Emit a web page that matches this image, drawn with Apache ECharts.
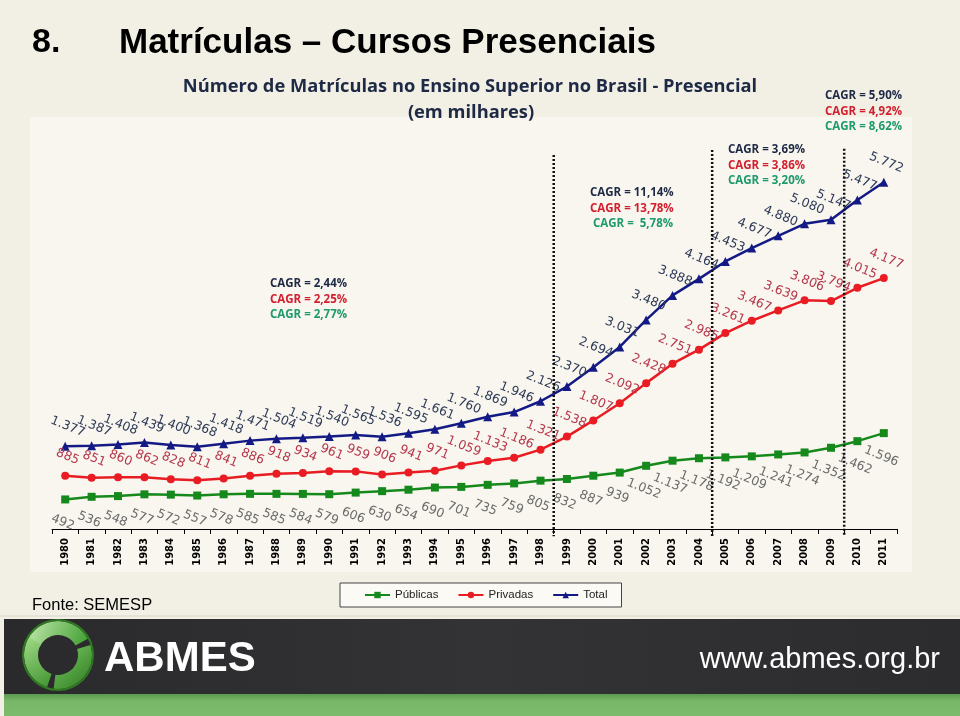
<!DOCTYPE html>
<html>
<head>
<meta charset="utf-8">
<script src="https://cdn.jsdelivr.net/npm/echarts@6/dist/echarts.min.js"></script>
<style>
html,body{margin:0;padding:0;background:#f2f0e5;}
#chart{width:960px;height:716px;}
</style>
</head>
<body>
<div id="chart"></div>
<script>
var years = ['1980','1981','1982','1983','1984','1985','1986','1987','1988','1989','1990','1991','1992','1993','1994','1995','1996','1997','1998','1999','2000','2001','2002','2003','2004','2005','2006','2007','2008','2009','2010','2011'];
var publicas = [492,536,548,577,572,557,578,585,585,584,579,606,630,654,690,701,735,759,805,832,887,939,1052,1137,1178,1192,1209,1241,1274,1352,1462,1596];
var privadas = [885,851,860,862,828,811,841,886,918,934,961,959,906,941,971,1059,1133,1186,1321,1538,1807,2092,2428,2751,2985,3261,3467,3639,3806,3794,4015,4177];
var total = [1377,1387,1408,1439,1400,1368,1418,1471,1504,1519,1540,1565,1536,1595,1661,1760,1869,1946,2126,2370,2694,3031,3480,3888,4164,4453,4677,4880,5080,5147,5477,5772];
var seriesNames = ['Públicas','Privadas','Total'];
// period breaks: between these category indexes
var periodBreaks = [[18,19],[24,25],[29,30]];
var periodTops = [6226, 6310, 6330];
var cagrBlocks = [
  ['CAGR = 2,44%','CAGR = 2,25%','CAGR = 2,77%'],
  ['CAGR = 11,14%','CAGR = 13,78%',' CAGR =  5,78%'],
  ['CAGR = 3,69%','CAGR = 3,86%','CAGR = 3,20%'],
  ['CAGR = 5,90%','CAGR = 4,92%','CAGR = 8,62%']
];
var cagrPos = [[270,284],[590,193],[728,150],[825,96]];
var cagrColors = ['#1d2945','#d2202f','#1e9a6c'];

function fmt(v){ return String(v).replace(/\B(?=(\d{3})+(?!\d))/g,'.'); }

var chart = echarts.init(document.getElementById('chart'));

var graphics = [
  {type:'rect', shape:{x:0,y:0,width:960,height:716}, style:{fill:'#f2f0e5'}, z:-10},
  {type:'rect', shape:{x:30,y:117,width:882,height:455}, style:{fill:'#f8f6ee'}, z:-9},
  {type:'line', shape:{x1:0,y1:616,x2:960,y2:616}, style:{stroke:'#d8d6cc',lineWidth:1}, z:-8},
  {type:'text', left:32, top:26, style:{text:'8.', font:'bold 34px "Liberation Sans", Arial', fill:'#000'}},
  {type:'text', left:119, top:26, style:{text:'Matrículas – Cursos Presenciais', font:'bold 35px "Liberation Sans", Arial', fill:'#000'}},
  {type:'text', x:470, y:87, style:{text:'Número de Matrículas no Ensino Superior no Brasil - Presencial', font:'bold 18.3px "Open Sans"', fill:'#1d2945', align:'center', verticalAlign:'middle'}},
  {type:'text', x:471, y:113, style:{text:'(em milhares)', font:'bold 18.3px "Open Sans"', fill:'#1d2945', align:'center', verticalAlign:'middle'}},
  {type:'text', left:32, top:597, style:{text:'Fonte: SEMESP', font:'16.5px "Liberation Sans", Arial', fill:'#000'}},
  // footer
  {type:'rect', shape:{x:4,y:619,width:956,height:76}, style:{fill:new echarts.graphic.LinearGradient(0,0,1,0,[{offset:0,color:'#2a292b'},{offset:0.5,color:'#333234'},{offset:1,color:'#2c2b2d'}])}},
  {type:'rect', shape:{x:4,y:694,width:956,height:22}, style:{fill:new echarts.graphic.LinearGradient(0,0,0,1,[{offset:0,color:'#5a9a4e'},{offset:0.3,color:'#78b768'},{offset:1,color:'#7dbb6c'}])}},
  {type:'text', left:104, top:638, style:{text:'ABMES', font:'bold 42px "Liberation Sans", Arial', fill:'#ffffff'}},
  {type:'text', x:940, y:660, style:{text:'www.abmes.org.br', font:'29px "Liberation Sans", Arial', fill:'#ffffff', align:'right', verticalAlign:'middle'}},
  // logo swirl
  {type:'arc', shape:{cx:58,cy:655,r:27,startAngle:-2.7,endAngle:-0.5}, style:{stroke:new echarts.graphic.LinearGradient(0,0,1,1,[{offset:0,color:'#c4eab0'},{offset:1,color:'#3a9a2a'}]), lineWidth:14, fill:'none'}},
  {type:'arc', shape:{cx:58,cy:655,r:27,startAngle:-0.3,endAngle:1.7}, style:{stroke:new echarts.graphic.LinearGradient(0,0,1,1,[{offset:0,color:'#8ad672'},{offset:1,color:'#2c7a1e'}]), lineWidth:14, fill:'none'}},
  {type:'arc', shape:{cx:58,cy:655,r:27,startAngle:1.9,endAngle:3.7}, style:{stroke:new echarts.graphic.LinearGradient(0,0,1,1,[{offset:0,color:'#a6df8c'},{offset:1,color:'#3c8f2c'}]), lineWidth:14, fill:'none'}},
  {type:'circle', shape:{cx:58,cy:655,r:35}, style:{fill:'none', stroke:'#2f7a22', lineWidth:2}}
];

cagrBlocks.forEach(function(b,i){
  b.forEach(function(t,j){
    graphics.push({type:'text', x:cagrPos[i][0], y:cagrPos[i][1]+j*15.5, style:{text:t, font:'bold 11.5px "Open Sans"', fill:cagrColors[j], verticalAlign:'middle'}});
  });
});

function labelCfg(pos,color,dist){
  return {show:true, position:pos, distance:dist, rotate:-22, color:color,
    fontSize:12.5, fontFamily:'"DejaVu Sans", Verdana', formatter:function(p){return fmt(p.value);}};
}

var option = {
  animation:false,
  backgroundColor:'transparent',
  graphic:graphics,
  grid:{left:52,right:63,top:138.5,bottom:184},
  legend:{
    data:seriesNames, left:340, top:583, orient:'horizontal',
    backgroundColor:'#fbfaf5', borderColor:'#444', borderWidth:1,
    padding:[6,14,6,24], itemGap:19, itemWidth:25, itemHeight:8,
    textStyle:{fontSize:11.5, fontFamily:'"Liberation Sans", Tahoma', color:'#222'}
  },
  xAxis:{type:'category', data:years, boundaryGap:true,
     axisLine:{lineStyle:{color:'#000',width:1}},
     axisTick:{show:true, length:5, lineStyle:{color:'#000'}},
     axisLabel:{rotate:90, fontSize:10, fontWeight:'bold', fontFamily:'"DejaVu Sans", Verdana', color:'#000', margin:6}},
  yAxis:{type:'value', min:-50, max:6500, show:false, splitLine:{show:false}},
  series:[
    {name:'Públicas', type:'line', data:publicas, symbol:'rect', symbolSize:8,
     lineStyle:{color:'#16891c', width:2.5}, itemStyle:{color:'#16891c'},
     label:labelCfg('bottom','#6b6b6b',13)},
    {name:'Privadas', type:'line', data:privadas, symbol:'circle', symbolSize:8,
     lineStyle:{color:'#e81c22', width:2.5}, itemStyle:{color:'#e81c22'},
     label:labelCfg('top','#b5374c',9)},
    {name:'Total', type:'line', data:total, symbol:'triangle', symbolSize:9,
     lineStyle:{color:'#141a85', width:2.5}, itemStyle:{color:'#141a85'},
     label:labelCfg('top','#2e3a58',9)}
  ]
};
chart.setOption(option);

// dotted period separators placed through the chart's own scales
var extra = [];
periodBreaks.forEach(function(pair,i){
  var xa = chart.convertToPixel({xAxisIndex:0}, years[pair[0]]);
  var xb = chart.convertToPixel({xAxisIndex:0}, years[pair[1]]);
  var x = (xa+xb)/2;
  var yTop = chart.convertToPixel({yAxisIndex:0}, periodTops[i]);
  var yBot = chart.convertToPixel({yAxisIndex:0}, -120);
  extra.push({type:'line', shape:{x1:x,y1:yTop,x2:x,y2:yBot}, style:{stroke:'#111', lineWidth:2.5, lineDash:[2,2]}, z:50});
});
chart.setOption({graphic:graphics.concat(extra)});
</script>
</body>
</html>
